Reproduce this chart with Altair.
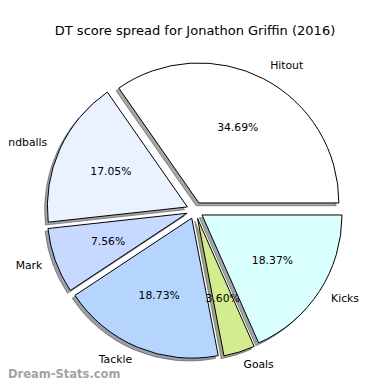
import altair as alt
import pandas as pd

# ---- data ----
LABELS = ["Hitout", "Handballs", "Mark", "Tackle", "Goals", "Kicks"]
VALUES = [34.69, 17.05, 7.56, 18.73, 3.60, 18.37]
COLORS = ["#ffffff", "#eaf1ff", "#c8d9ff", "#b5d5ff", "#d2ec8e", "#d9ffff"]
TITLE = "DT score spread for Jonathon Griffin (2016)"
WATERMARK = "Dream-Stats.com"

# ---- layout constants (pixels, plot-area coordinates) ----
W, H = 374, 346
CX, CY = 187.0, 174.4
R = 140.0
EXPLODE = 8.4
SHADOW_OFF = 2.8
FONT = "DejaVu Sans"


def shade(hexcol, f=0.3):
    h = hexcol.lstrip("#")
    r, g, b = (int(h[i:i + 2], 16) for i in (0, 2, 4))
    return "#%02x%02x%02x" % (int(r * f), int(g * f), int(b * f))


SHADOWS = [shade(c) for c in COLORS]

df = pd.DataFrame({
    "label": LABELS,
    "value": VALUES,
    "color": COLORS,
    "shadow": SHADOWS,
    "k": list(range(len(LABELS))),
})

base = (
    alt.Chart(df)
    .transform_joinaggregate(total="sum(value)")
    .transform_window(cum="sum(value)", sort=[alt.SortField("k", order="descending")], frame=[None, 0])
    .transform_calculate(start="PI/2 + 2*PI*(datum.cum - datum.value)/datum.total")
    .transform_calculate(end="PI/2 + 2*PI*datum.cum/datum.total")
    .transform_calculate(mid="(datum.start + datum.end)/2")
    .transform_calculate(dx="sin(datum.mid)")
    .transform_calculate(dy="-cos(datum.mid)")
    .transform_calculate(cx=f"{CX} + {EXPLODE}*datum.dx")
    .transform_calculate(cy=f"{CY} + {EXPLODE}*datum.dy")
    .transform_calculate(sx=f"datum.cx - {SHADOW_OFF}")
    .transform_calculate(sy=f"datum.cy + {SHADOW_OFF}")
    .transform_calculate(lx=f"datum.cx + {1.1 * R}*datum.dx")
    .transform_calculate(ly=f"datum.cy + {1.1 * R}*datum.dy")
    .transform_calculate(px=f"datum.cx + {0.6 * R}*datum.dx")
    .transform_calculate(py=f"datum.cy + {0.6 * R}*datum.dy")
    .transform_calculate(pct="format(100*datum.value/datum.total, '.2f') + '%'")
)

theta = alt.Theta("start:Q", scale=None)
theta2 = alt.Theta2("end:Q")

shadow = base.mark_arc(outerRadius=R, fillOpacity=0.5, strokeOpacity=0.5, strokeWidth=1).encode(
    theta=theta, theta2=theta2,
    x=alt.X("sx:Q", scale=None, axis=None),
    y=alt.Y("sy:Q", scale=None, axis=None),
    fill=alt.Fill("shadow:N", scale=None),
    stroke=alt.Stroke("shadow:N", scale=None),
)

wedges = base.mark_arc(outerRadius=R, stroke="black", strokeWidth=1).encode(
    theta=theta, theta2=theta2,
    x=alt.X("cx:Q", scale=None, axis=None),
    y=alt.Y("cy:Q", scale=None, axis=None),
    fill=alt.Fill("color:N", scale=None),
)

labels_left = base.transform_filter("datum.dx > 0").mark_text(
    align="left", baseline="middle", font=FONT, fontSize=10.8, color="black"
).encode(
    x=alt.X("lx:Q", scale=None, axis=None),
    y=alt.Y("ly:Q", scale=None, axis=None),
    text="label:N",
)

labels_right = base.transform_filter("datum.dx <= 0").mark_text(
    align="right", baseline="middle", font=FONT, fontSize=10.8, color="black"
).encode(
    x=alt.X("lx:Q", scale=None, axis=None),
    y=alt.Y("ly:Q", scale=None, axis=None),
    text="label:N",
)

pcts = base.mark_text(
    align="center", baseline="middle", font=FONT, fontSize=10.8, color="black"
).encode(
    x=alt.X("px:Q", scale=None, axis=None),
    y=alt.Y("py:Q", scale=None, axis=None),
    text="pct:N",
)

wm = alt.Chart(pd.DataFrame({"t": [WATERMARK]})).mark_text(
    align="left", baseline="alphabetic", font=FONT, fontSize=11.5, fontWeight="bold", color="#a3a3a3"
).encode(x=alt.value(0), y=alt.value(342), text="t:N")

chart = (
    alt.layer(shadow, wedges, labels_left, labels_right, pcts, wm)
    .properties(
        width=W,
        height=H,
        padding={"left": 0, "right": 0, "top": 28, "bottom": 0},
        autosize=alt.AutoSizeParams(type="none"),
        title=alt.TitleParams(
            TITLE, font=FONT, fontSize=13, fontWeight="normal", anchor="middle",
            offset=4, dy=6, color="black"
        ),
    )
    .configure(background="white")
    .configure_view(stroke=None)
)

chart.save("out.html", embed_options={"renderer": "svg", "actions": False})
